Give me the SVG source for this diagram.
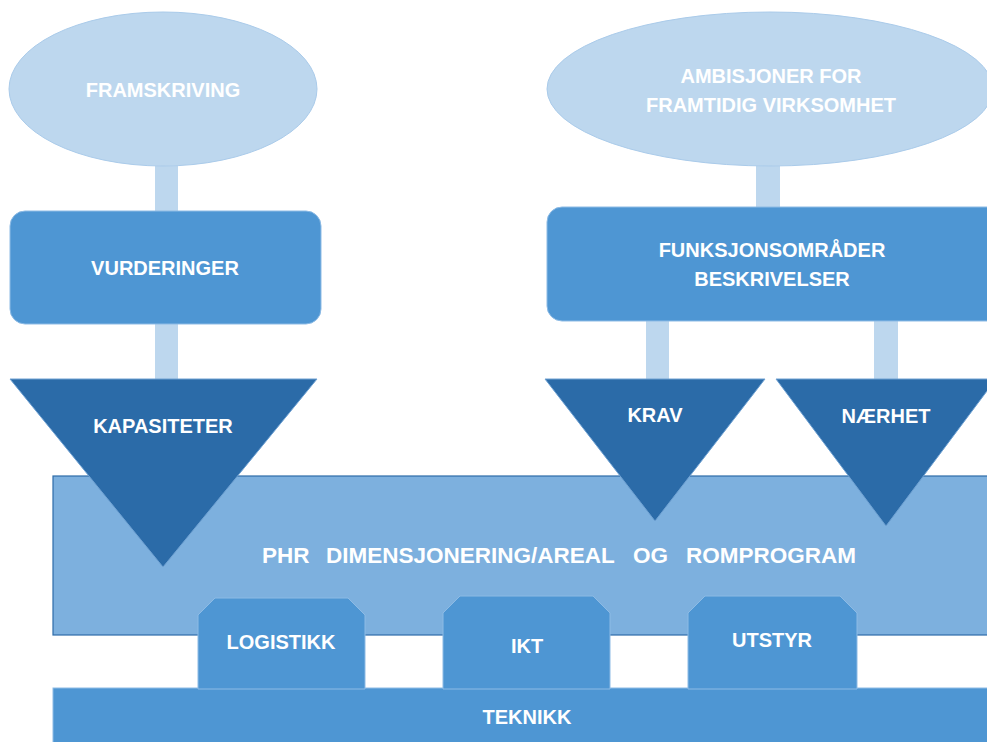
<svg xmlns="http://www.w3.org/2000/svg" width="987" height="742" viewBox="0 0 987 742">
<style>
.ell{fill:#BDD7EE;stroke:#AACBEA;stroke-width:1}
.stem{fill:#BDD7EE}
.box{fill:#4E96D3;stroke:#8DBBE5;stroke-width:1}
.tri{fill:#2B6BA8;stroke:#6FA1D2;stroke-width:1}
.main{fill:#7DB0DE;stroke:#2E6CA8;stroke-width:1.2}
.t{font-family:"Liberation Sans",Arial,sans-serif;font-weight:bold;fill:#FFFFFF;text-anchor:middle;font-size:20px}
.tl{fill:#FFFFFF}
.big{font-size:22.5px;text-anchor:start}
</style>
<rect width="987" height="742" fill="#FFFFFF"/>
<g id="connectors">
<rect class="stem" x="155" y="166" width="23" height="46"/>
<rect class="stem" x="756" y="166" width="24" height="42"/>
<rect class="stem" x="155" y="323" width="23" height="57"/>
<rect class="stem" x="646" y="320" width="23" height="60"/>
<rect class="stem" x="874" y="320" width="24" height="60"/>
</g>
<g id="phr">
<rect class="main" x="53" y="476" width="940" height="159"/>
<text class="t big" y="563"><tspan x="262">PHR</tspan><tspan x="326">DIMENSJONERING/AREAL</tspan><tspan x="633">OG</tspan><tspan x="686">ROMPROGRAM</tspan></text>
</g>
<g id="framskriving">
<ellipse class="ell" cx="163" cy="89" rx="154" ry="77"/>
<text class="t tl" x="163" y="97">FRAMSKRIVING</text>
</g>
<g id="ambisjoner">
<ellipse class="ell" cx="770" cy="89" rx="223" ry="77"/>
<text class="t tl" x="771" y="83">AMBISJONER FOR</text>
<text class="t tl" x="771" y="112">FRAMTIDIG VIRKSOMHET</text>
</g>
<g id="vurderinger">
<rect class="box" x="10" y="211" width="311" height="113" rx="15"/>
<text class="t" x="165" y="275">VURDERINGER</text>
</g>
<g id="funksjonsomrader">
<rect class="box" x="547" y="207" width="460" height="114" rx="15"/>
<text class="t" x="772" y="257">FUNKSJONSOMRÅDER</text>
<text class="t" x="772" y="286">BESKRIVELSER</text>
</g>
<g id="kapasiteter">
<polygon class="tri" points="10,379 317,379 163,567"/>
<text class="t" x="163" y="433">KAPASITETER</text>
</g>
<g id="krav">
<polygon class="tri" points="545,379 765,379 655,521"/>
<text class="t" x="655" y="422">KRAV</text>
</g>
<g id="naerhet">
<polygon class="tri" points="776,379 996,379 886,526"/>
<text class="t" x="886" y="423">NÆRHET</text>
</g>
<g id="teknikk">
<rect class="box" x="53" y="688" width="940" height="60"/>
<text class="t" x="527" y="724">TEKNIKK</text>
</g>
<g id="logistikk">
<polygon class="box" points="198,689 198,615 215,598 348,598 365,615 365,689"/>
<text class="t" x="281" y="649">LOGISTIKK</text>
</g>
<g id="ikt">
<polygon class="box" points="443,689 443,613 460,596 593,596 610,613 610,689"/>
<text class="t" x="527" y="653">IKT</text>
</g>
<g id="utstyr">
<polygon class="box" points="688,689 688,613 705,596 840,596 857,613 857,689"/>
<text class="t" x="772" y="647">UTSTYR</text>
</g>
</svg>
